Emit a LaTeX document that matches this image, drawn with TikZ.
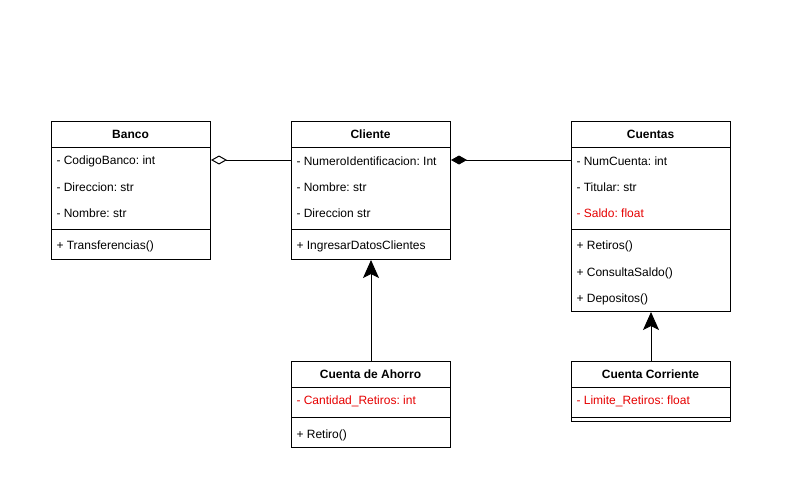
\documentclass[tikz,border=0pt]{standalone}
\usepackage{fontspec}
\setmainfont{Liberation Sans}
\usetikzlibrary{arrows.meta}
\definecolor{attrred}{RGB}{230,0,0}
\frenchspacing
\begin{document}
\begin{tikzpicture}[x=1pt,y=-1pt,
  font=\fontsize{12}{14}\selectfont,
  line width=1pt,
  classbox/.style={draw, line width=1pt, anchor=north west, inner sep=0pt, fill=white, minimum width=159pt},
  title/.style={font=\fontsize{12}{14}\selectfont\bfseries, anchor=center, inner sep=0pt},
  member/.style={anchor=west, inner sep=0pt, yshift=-1pt},
  redmember/.style={member, text=attrred},
  sep/.style={line width=1pt}
]
\useasboundingbox (0,0) rectangle (802,484);

% Banco
\node[classbox, minimum height=138pt] (banco) at (51,121) {};
\draw[sep] (51,147) -- (210,147);
\draw[sep] (51,229) -- (210,229);
\node[title] (bancot) at (130.5,134) {Banco};
\node[member] (b1) at (56,160) {- CodigoBanco: int};
\node[member] (b2) at (56,186) {- Direccion: str};
\node[member] (b3) at (56,212) {- Nombre: str};
\node[member] (b4) at (56,245) {+ Transferencias()};

% Cliente
\node[classbox, minimum height=138pt] (cliente) at (291,121) {};
\draw[sep] (291,147) -- (450,147);
\draw[sep] (291,229) -- (450,229);
\node[title] (clientet) at (370.5,134) {Cliente};
\node[member] (c1) at (296,160) {- NumeroIdentificacion: Int};
\node[member] (c2) at (296,186) {- Nombre: str};
\node[member] (c3) at (296,212) {- Direccion str};
\node[member] (c4) at (296,245) {+ IngresarDatosClientes};

% Cuentas
\node[classbox, minimum height=190pt] (cuentas) at (571,121) {};
\draw[sep] (571,147) -- (730,147);
\draw[sep] (571,229) -- (730,229);
\node[title] (cuentast) at (650.5,134) {Cuentas};
\node[member] (u1) at (576,160) {- NumCuenta: int};
\node[member] (u2) at (576,186) {- Titular: str};
\node[redmember] (u3) at (576,212) {- Saldo: float};
\node[member] (u4) at (576,245) {+ Retiros()};
\node[member] (u5) at (576,272) {+ ConsultaSaldo()};
\node[member] (u6) at (576,298) {+ Depositos()};

% Cuenta de Ahorro
\node[classbox, minimum height=86pt] (ahorro) at (291,361) {};
\draw[sep] (291,387) -- (450,387);
\draw[sep] (291,417) -- (450,417);
\node[title] (ahorrot) at (370.5,374) {Cuenta de Ahorro};
\node[redmember] (a1) at (296,400) {- Cantidad\_Retiros: int};
\node[member] (a2) at (296,434) {+ Retiro()};

% Cuenta Corriente
\node[classbox, minimum height=60pt] (corriente) at (571,361) {};
\draw[sep] (571,387) -- (730,387);
\draw[sep] (571,417) -- (730,417);
\node[title] (corrientet) at (650.5,374) {Cuenta Corriente};
\node[redmember] (r1) at (576,400) {- Limite\_Retiros: float};

% Connectors
\draw[{Diamond[open,length=16pt,width=9pt]}-] ([yshift=-39pt]banco.north east) -- ([yshift=-39pt]cliente.north west);
\draw[{Diamond[length=16pt,width=9pt]}-] ([yshift=-39pt]cliente.north east) -- ([yshift=-39pt]cuentas.north west);
\draw[-{Stealth[length=18pt,width=16pt,inset=4pt]}] (ahorro.north) -- (cliente.south);
\draw[-{Stealth[length=18pt,width=16pt,inset=4pt]}] (corriente.north) -- (cuentas.south);
\end{tikzpicture}
\end{document}
